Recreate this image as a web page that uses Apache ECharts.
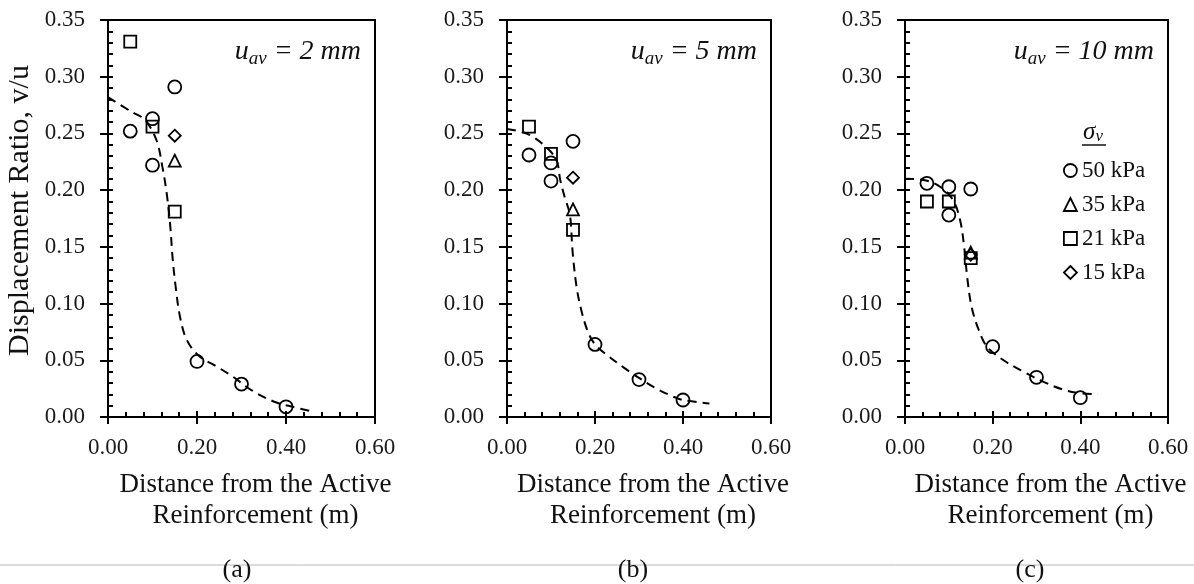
<!DOCTYPE html>
<html>
<head>
<meta charset="utf-8">
<script src="https://cdn.jsdelivr.net/npm/echarts@6/dist/echarts.min.js"></script>
<style>
html,body{margin:0;padding:0;background:#fff;}
#chart{width:1194px;height:584px;}
</style>
</head>
<body>
<div id="chart"></div>
<script>
// ---- data ----
const panelLabels = ['(a)', '(b)', '(c)'];
const uavValues = ['2', '5', '10'];
const seriesNames = ['50 kPa', '35 kPa', '21 kPa', '15 kPa'];
const xTickValues = [0, 0.2, 0.4, 0.6];
const yTickValues = [0, 0.05, 0.10, 0.15, 0.20, 0.25, 0.30, 0.35];

// panel (a): u_av = 2 mm
const a50 = [[0.05, 0.252], [0.10, 0.263], [0.10, 0.222], [0.15, 0.291], [0.20, 0.049], [0.30, 0.029], [0.40, 0.009]];
const a35 = [[0.15, 0.226]];
const a21 = [[0.05, 0.331], [0.10, 0.256], [0.15, 0.181]];
const a15 = [[0.15, 0.248]];
const aFit = [[0, 0.282], [0.053, 0.269], [0.083, 0.262], [0.109, 0.244], [0.122, 0.221], [0.132, 0.197], [0.140, 0.168], [0.145, 0.141], [0.152, 0.115], [0.162, 0.088], [0.177, 0.068], [0.204, 0.054], [0.242, 0.045], [0.279, 0.036], [0.325, 0.023], [0.377, 0.013], [0.415, 0.009], [0.457, 0.005]];

// panel (b): u_av = 5 mm
const b50 = [[0.05, 0.231], [0.10, 0.224], [0.10, 0.208], [0.15, 0.243], [0.20, 0.064], [0.30, 0.033], [0.40, 0.015]];
const b35 = [[0.15, 0.183]];
const b21 = [[0.05, 0.256], [0.10, 0.232], [0.15, 0.165]];
const b15 = [[0.15, 0.211]];
const bFit = [[0, 0.254], [0.036, 0.251], [0.059, 0.247], [0.086, 0.239], [0.112, 0.227], [0.121, 0.209], [0.131, 0.194], [0.143, 0.178], [0.149, 0.146], [0.158, 0.115], [0.169, 0.094], [0.184, 0.075], [0.200, 0.064], [0.226, 0.055], [0.264, 0.044], [0.302, 0.034], [0.340, 0.025], [0.378, 0.018], [0.40, 0.015], [0.460, 0.012]];

// panel (c): u_av = 10 mm
const c50 = [[0.05, 0.206], [0.10, 0.203], [0.10, 0.178], [0.15, 0.201], [0.20, 0.062], [0.30, 0.035], [0.40, 0.017]];
const c35 = [[0.15, 0.145]];
const c21 = [[0.05, 0.190], [0.10, 0.190], [0.15, 0.140]];
const c15 = [[0.15, 0.143]];
const cFit = [[0, 0.210], [0.042, 0.209], [0.080, 0.203], [0.110, 0.191], [0.126, 0.173], [0.135, 0.150], [0.142, 0.123], [0.152, 0.097], [0.168, 0.077], [0.187, 0.062], [0.225, 0.050], [0.270, 0.040], [0.316, 0.031], [0.362, 0.024], [0.40, 0.021], [0.440, 0.020]];

const panelPoints = [[a50, a35, a21, a15], [b50, b35, b21, b15], [c50, c35, c21, c15]];
const panelFits = [aFit, bFit, cFit];

// ---- layout & style ----
const FONT = '"Liberation Serif", "Times New Roman", serif';
const gridBoxes = [
  {left: 108, top: 20, width: 267, height: 397},
  {left: 507, top: 20, width: 264, height: 397},
  {left: 905, top: 20, width: 263, height: 397}
];
const symbols = ['circle', 'triangle', 'rect', 'diamond'];
const symbolSizes = [13, 12, 12, 12];
const labelCenters = [237, 633, 1030];

const grids = [], xAxes = [], yAxes = [], series = [], graphics = [];

gridBoxes.forEach((g, i) => {
  grids.push(Object.assign({
    show: true, borderColor: '#000', borderWidth: 2, backgroundColor: 'transparent',
    containLabel: false, outerBoundsMode: 'none'
  }, g));

  // primary x axis (labels + outer part of major ticks)
  xAxes.push({
    type: 'value', gridIndex: i, position: 'bottom', min: 0, max: 0.6, interval: 0.2,
    axisLine: {show: true, onZero: false, lineStyle: {color: '#000', width: 2}},
    axisTick: {show: true, inside: false, length: 7, lineStyle: {color: '#000', width: 2}},
    minorTick: {show: false},
    splitLine: {show: false},
    axisLabel: {show: true, margin: 19, color: '#1a1a1a', fontFamily: FONT, fontSize: 23,
      formatter: v => (xTickValues.indexOf(Math.round(v * 10) / 10) >= 0 ? v.toFixed(2) : '')},
    name: 'Distance from the Active\nReinforcement (m)',
    nameLocation: 'middle', nameGap: 52,
    nameTextStyle: {color: '#111', fontFamily: FONT, fontSize: 27, lineHeight: 31, padding: [0, 0, 0, 28]}
  });
  // secondary x axis (inner part of major ticks + minor ticks)
  xAxes.push({
    type: 'value', gridIndex: i, position: 'bottom', min: 0, max: 0.6, interval: 0.2,
    axisLine: {show: false, onZero: false},
    axisTick: {show: true, inside: true, length: 6, lineStyle: {color: '#000', width: 2}},
    minorTick: {show: true, splitNumber: 5, length: 5, lineStyle: {color: '#000', width: 2}},
    splitLine: {show: false}, minorSplitLine: {show: false},
    axisLabel: {show: false}
  });

  yAxes.push({
    type: 'value', gridIndex: i, position: 'left', min: 0, max: 0.35, interval: 0.05,
    axisLine: {show: true, onZero: false, lineStyle: {color: '#000', width: 2}},
    axisTick: {show: true, inside: false, length: 8, lineStyle: {color: '#000', width: 2}},
    minorTick: {show: false},
    splitLine: {show: false},
    axisLabel: {show: true, margin: 23, color: '#1a1a1a', fontFamily: FONT, fontSize: 23,
      formatter: v => v.toFixed(2)},
    name: i === 0 ? 'Displacement Ratio, v/u' : '',
    nameLocation: 'middle', nameGap: 73,
    nameTextStyle: {color: '#111', fontFamily: FONT, fontSize: 30, padding: [0, 0, 0, 16]}
  });
  yAxes.push({
    type: 'value', gridIndex: i, position: 'left', min: 0, max: 0.35, interval: 0.05,
    axisLine: {show: false, onZero: false},
    axisTick: {show: true, inside: true, length: 5, lineStyle: {color: '#000', width: 2}},
    minorTick: {show: true, splitNumber: 5, length: 5, lineStyle: {color: '#000', width: 2}},
    splitLine: {show: false}, minorSplitLine: {show: false},
    axisLabel: {show: false}
  });

  // fitted dashed curve
  series.push({
    type: 'line', name: 'fit' + i, xAxisIndex: 2 * i, yAxisIndex: 2 * i,
    data: panelFits[i], smooth: 0.35, symbol: 'none', z: 2, silent: true,
    lineStyle: {color: '#000', width: 2, type: [9, 6]}
  });
  // scatter points
  panelPoints[i].forEach((pts, k) => {
    series.push({
      type: 'scatter', name: seriesNames[k], xAxisIndex: 2 * i, yAxisIndex: 2 * i,
      data: pts, symbol: symbols[k], symbolSize: symbolSizes[k], z: 3,
      itemStyle: {color: 'rgba(0,0,0,0)', borderColor: '#000', borderWidth: 1.8, opacity: 1},
      emphasis: {disabled: true}
    });
  });

  // u_av annotation
  graphics.push({
    type: 'text', z: 10,
    style: {
      text: '{u|u}{s|av}{t| = ' + uavValues[i] + ' mm}',
      x: g.left + g.width - 14, y: 52, align: 'right', verticalAlign: 'middle',
      rich: {
        u: {fontFamily: FONT, fontStyle: 'italic', fontSize: 28, fill: '#111', lineHeight: 30},
        s: {fontFamily: FONT, fontStyle: 'italic', fontSize: 19, fill: '#111', padding: [14, 0, 0, 0], lineHeight: 20},
        t: {fontFamily: FONT, fontStyle: 'italic', fontSize: 28, fill: '#111', lineHeight: 30}
      }
    }
  });
  // panel label
  graphics.push({
    type: 'text', z: 12,
    style: {text: panelLabels[i], x: labelCenters[i], y: 570, align: 'center', verticalAlign: 'middle',
      fontFamily: FONT, fontSize: 26, fill: '#111'}
  });
});

// separator line at the bottom
graphics.push({
  type: 'line', z: 5,
  shape: {x1: 0, y1: 565, x2: 1194, y2: 565},
  style: {stroke: '#b8b8b8', lineWidth: 1}
});
// legend title sigma_v (underlined)
graphics.push({
  type: 'text', z: 10,
  style: {
    text: '{g|σ}{v|v}', x: 1093, y: 132, align: 'center', verticalAlign: 'middle',
    rich: {
      g: {fontFamily: FONT, fontStyle: 'italic', fontSize: 25, fill: '#111', lineHeight: 26},
      v: {fontFamily: FONT, fontStyle: 'italic', fontSize: 17, fill: '#111', padding: [10, 0, 0, 0], lineHeight: 18}
    }
  }
});
graphics.push({
  type: 'line', z: 10,
  shape: {x1: 1082, y1: 145, x2: 1106, y2: 145},
  style: {stroke: '#111', lineWidth: 1.5}
});

const option = {
  backgroundColor: '#fff',
  animation: false,
  grid: grids,
  xAxis: xAxes,
  yAxis: yAxes,
  series: series,
  legend: {
    show: true, orient: 'vertical', left: 1058, top: 154,
    data: seriesNames, itemWidth: 13, itemHeight: 13, itemGap: 11,
    selectedMode: false,
    itemStyle: {color: 'rgba(0,0,0,0)', borderColor: '#000', borderWidth: 1.8},
    textStyle: {fontFamily: FONT, fontSize: 23, color: '#111', lineHeight: 22}
  },
  graphic: graphics
};

const chart = echarts.init(document.getElementById('chart'), null, {renderer: 'canvas'});
chart.setOption(option);
</script>
</body>
</html>
